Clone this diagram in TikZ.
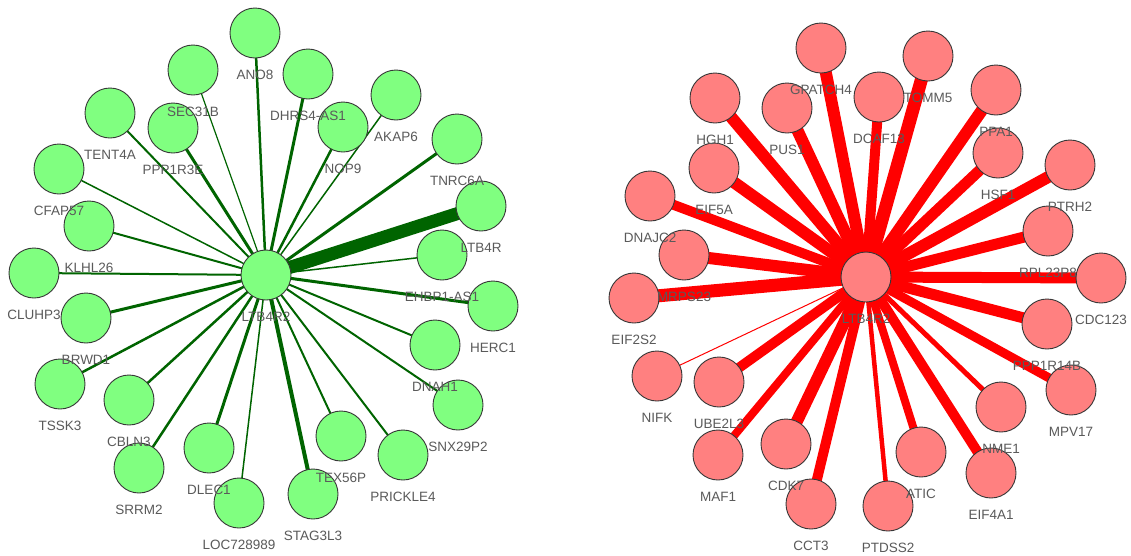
\documentclass[tikz,border=0pt]{standalone}
\usepackage{fontspec}
\setmainfont{Liberation Sans}
\usetikzlibrary{calc}
\pgfdeclarelayer{bg}
\pgfdeclarelayer{fg}
\pgfsetlayers{bg,main,fg}
\definecolor{gfill}{RGB}{128,255,128}
\definecolor{rfill}{RGB}{255,128,128}
\definecolor{gline}{RGB}{0,100,0}
\definecolor{rline}{RGB}{255,0,0}
\definecolor{rim}{RGB}{55,55,55}
\definecolor{labgray}{RGB}{90,90,90}
\tikzset{
  gnode/.style={circle, draw=rim, line width=0.9pt, fill=gfill, minimum size=50pt, inner sep=0pt},
  rnode/.style={circle, draw=rim, line width=0.9pt, fill=rfill, minimum size=50pt, inner sep=0pt},
  lab/.style={text=labgray, font=\fontsize{13.5pt}{15pt}\selectfont, inner sep=0pt},
  gedge/.style={draw=gline},
  redge/.style={draw=rline}
}
% gene node with its caption below: #1 name, #2 style, #3 x, #4 y, #5 caption
\newcommand\gene[5]{%
  \node[#2] (#1) at (#3,#4) {};
  \begin{pgfonlayer}{fg}\node[lab] (#1-t) at (#3,#4+42) {#5};\end{pgfonlayer}}
% hub-to-gene edge of given width
\newcommand\link[4]{%
  \begin{pgfonlayer}{bg}\draw[#1, line width=#4pt] (#2.center) -- (#3.center);\end{pgfonlayer}}
\begin{document}
\begin{tikzpicture}[x=1pt, y=-1pt]
\useasboundingbox (0,0) rectangle (1131,555);
\begin{pgfonlayer}{bg}\fill[white] (0,0) rectangle (1131,555);\end{pgfonlayer}

% ---------- green network ----------
\gene{gHub}{gnode}{266}{275}{LTB4R2}
\gene{ANO8}{gnode}{255}{33}{ANO8}
\gene{SEC31B}{gnode}{193}{70}{SEC31B}
\gene{TENT4A}{gnode}{110}{113}{TENT4A}
\gene{PPP1R3E}{gnode}{173}{128}{PPP1R3E}
\gene{CFAP57}{gnode}{59}{169}{CFAP57}
\gene{KLHL26}{gnode}{89}{226}{KLHL26}
\gene{CLUHP3}{gnode}{34}{273}{CLUHP3}
\gene{BRWD1}{gnode}{86}{318}{BRWD1}
\gene{TSSK3}{gnode}{60}{384}{TSSK3}
\gene{CBLN3}{gnode}{129}{400}{CBLN3}
\gene{SRRM2}{gnode}{139}{468}{SRRM2}
\gene{DLEC1}{gnode}{209}{448}{DLEC1}
\gene{LOC728989}{gnode}{239}{503}{LOC728989}
\gene{STAG3L3}{gnode}{313}{494}{STAG3L3}
\gene{TEX56P}{gnode}{341}{436}{TEX56P}
\gene{PRICKLE4}{gnode}{403}{455}{PRICKLE4}
\gene{SNX29P2}{gnode}{458}{405}{SNX29P2}
\gene{DNAH1}{gnode}{435}{345}{DNAH1}
\gene{HERC1}{gnode}{493}{306}{HERC1}
\gene{EHBP1AS1}{gnode}{442}{255}{EHBP1-AS1}
\gene{LTB4R}{gnode}{481}{206}{LTB4R}
\gene{TNRC6A}{gnode}{457}{139}{TNRC6A}
\gene{AKAP6}{gnode}{396}{95}{AKAP6}
\gene{NOP9}{gnode}{343}{127}{NOP9}
\gene{DHRS4AS1}{gnode}{308}{74}{DHRS4-AS1}

\link{gedge}{gHub}{ANO8}{2.5}
\link{gedge}{gHub}{SEC31B}{1.2}
\link{gedge}{gHub}{TENT4A}{2}
\link{gedge}{gHub}{PPP1R3E}{3}
\link{gedge}{gHub}{CFAP57}{1.5}
\link{gedge}{gHub}{KLHL26}{2}
\link{gedge}{gHub}{CLUHP3}{2}
\link{gedge}{gHub}{BRWD1}{3}
\link{gedge}{gHub}{TSSK3}{2.5}
\link{gedge}{gHub}{CBLN3}{2.5}
\link{gedge}{gHub}{SRRM2}{2.5}
\link{gedge}{gHub}{DLEC1}{3}
\link{gedge}{gHub}{LOC728989}{1.5}
\link{gedge}{gHub}{STAG3L3}{4}
\link{gedge}{gHub}{TEX56P}{2}
\link{gedge}{gHub}{PRICKLE4}{2}
\link{gedge}{gHub}{SNX29P2}{2}
\link{gedge}{gHub}{DNAH1}{2}
\link{gedge}{gHub}{HERC1}{3}
\link{gedge}{gHub}{EHBP1AS1}{1.5}
\link{gedge}{gHub}{LTB4R}{13}
\link{gedge}{gHub}{TNRC6A}{3}
\link{gedge}{gHub}{AKAP6}{1.5}
\link{gedge}{gHub}{NOP9}{2.5}
\link{gedge}{gHub}{DHRS4AS1}{3}

% ---------- red network ----------
\gene{rHub}{rnode}{866}{277}{LTB4R2}
\gene{GPATCH4}{rnode}{821}{48}{GPATCH4}
\gene{HGH1}{rnode}{715}{98}{HGH1}
\gene{PUS1}{rnode}{787}{108}{PUS1}
\gene{EIF5A}{rnode}{714}{168}{EIF5A}
\gene{DNAJC2}{rnode}{650}{196}{DNAJC2}
\gene{MRPS23}{rnode}{684}{255}{MRPS23}
\gene{EIF2S2}{rnode}{634}{298}{EIF2S2}
\gene{NIFK}{rnode}{657}{376}{NIFK}
\gene{UBE2L3}{rnode}{719}{382}{UBE2L3}
\gene{MAF1}{rnode}{718}{455}{MAF1}
\gene{CDK7}{rnode}{786}{444}{CDK7}
\gene{CCT3}{rnode}{811}{504}{CCT3}
\gene{PTDSS2}{rnode}{888}{506}{PTDSS2}
\gene{ATIC}{rnode}{921}{452}{ATIC}
\gene{EIF4A1}{rnode}{991}{473}{EIF4A1}
\gene{NME1}{rnode}{1001}{407}{NME1}
\gene{MPV17}{rnode}{1071}{390}{MPV17}
\gene{PPP1R14B}{rnode}{1047}{324}{PPP1R14B}
\gene{CDC123}{rnode}{1101}{278}{CDC123}
\gene{RPL23P8}{rnode}{1048}{231}{RPL23P8}
\gene{PTRH2}{rnode}{1070}{165}{PTRH2}
\gene{HSF1}{rnode}{998}{153}{HSF1}
\gene{PPA1}{rnode}{996}{90}{PPA1}
\gene{TOMM5}{rnode}{928}{56}{TOMM5}
\gene{DCAF13}{rnode}{879}{97}{DCAF13}

\link{redge}{rHub}{GPATCH4}{12}
\link{redge}{rHub}{HGH1}{12}
\link{redge}{rHub}{PUS1}{12}
\link{redge}{rHub}{EIF5A}{12}
\link{redge}{rHub}{DNAJC2}{10}
\link{redge}{rHub}{MRPS23}{12}
\link{redge}{rHub}{EIF2S2}{13}
\link{redge}{rHub}{NIFK}{1}
\link{redge}{rHub}{UBE2L3}{10}
\link{redge}{rHub}{MAF1}{8}
\link{redge}{rHub}{CDK7}{12}
\link{redge}{rHub}{CCT3}{10}
\link{redge}{rHub}{PTDSS2}{4.5}
\link{redge}{rHub}{ATIC}{8}
\link{redge}{rHub}{EIF4A1}{10}
\link{redge}{rHub}{NME1}{5}
\link{redge}{rHub}{MPV17}{9}
\link{redge}{rHub}{PPP1R14B}{11}
\link{redge}{rHub}{CDC123}{11}
\link{redge}{rHub}{RPL23P8}{11}
\link{redge}{rHub}{PTRH2}{12}
\link{redge}{rHub}{HSF1}{11}
\link{redge}{rHub}{PPA1}{12}
\link{redge}{rHub}{TOMM5}{13}
\link{redge}{rHub}{DCAF13}{10}
\end{tikzpicture}
\end{document}
